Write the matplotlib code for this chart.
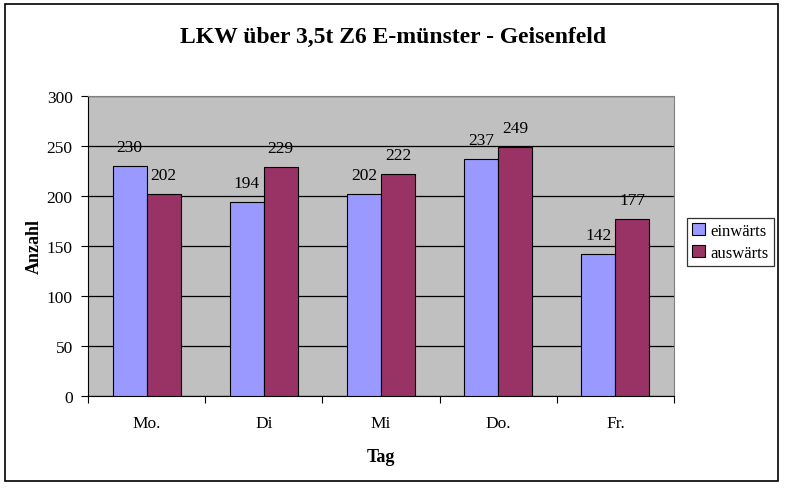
import matplotlib
matplotlib.use("Agg")
import matplotlib.pyplot as plt
import numpy as np
from matplotlib.patches import Rectangle

categories = ["Mo.", "Di", "Mi", "Do.", "Fr."]
einwaerts = [230, 194, 202, 237, 142]
auswaerts = [202, 229, 222, 249, 177]
series_names = ["einwärts", "auswärts"]
yticks = [0, 50, 100, 150, 200, 250, 300]

plt.rcParams['font.family'] = ['Liberation Serif', 'DejaVu Serif']

fig = plt.figure(figsize=(7.86, 4.89), dpi=100)
fig.patch.set_facecolor('white')
fig.patches.append(Rectangle((5/786, 1-482/489), 773/786, 477/489, transform=fig.transFigure,
                             fill=False, edgecolor='black', linewidth=1.2))

ax = fig.add_axes([88/786, 1-397/489, 586/786, 300/489])
ax.set_facecolor('#C0C0C0')
x = np.arange(len(categories))
w = 0.29
b1 = ax.bar(x - w/2, einwaerts, w, color='#9999FF', edgecolor='black', linewidth=0.8, label=series_names[0], zorder=3)
b2 = ax.bar(x + w/2, auswaerts, w, color='#993366', edgecolor='black', linewidth=0.8, label=series_names[1], zorder=3)
for bars, vals in ((b1, einwaerts), (b2, auswaerts)):
    for r, v in zip(bars, vals):
        ax.annotate(str(v), (r.get_x() + r.get_width()/2, v), xytext=(0, 8), textcoords='offset points',
                    ha='center', va='bottom', fontsize=12.5, zorder=4)

ax.set_xlim(-0.5, len(categories) - 0.5)
ax.set_ylim(0, 300)
ax.set_yticks(yticks)
ax.set_yticklabels([str(t) for t in yticks], fontsize=12.5)
ax.yaxis.grid(True, color='black', linewidth=0.9, zorder=1)
ax.set_axisbelow(True)
ax.set_xticks(np.arange(-0.5, len(categories)), minor=False)
ax.set_xticklabels([])
ax.set_xticks(x, minor=True)
ax.set_xticklabels(categories, minor=True, fontsize=12.5)
ax.tick_params(axis='x', which='minor', length=0, pad=14)
ax.tick_params(axis='x', which='major', length=5, direction='out', color='black')
ax.tick_params(axis='y', length=5, direction='out', pad=6)
for s in ['top', 'right']:
    ax.spines[s].set_color('#808080')
for s in ['left', 'bottom']:
    ax.spines[s].set_color('black')
ax.set_xlabel("Tag", fontsize=13, fontweight='bold', labelpad=12)
ax.set_ylabel("Anzahl", fontsize=13, fontweight='bold', labelpad=3)

fig.text(0.5, 1-37/489, "LKW über 3,5t Z6 E-münster - Geisenfeld", ha='center', va='center',
         fontsize=17, fontweight='bold')

leg = fig.legend(handles=[b1, b2], labels=series_names, loc='upper left',
                 bbox_to_anchor=(687/786, 1-219/489), frameon=True, fancybox=False,
                 edgecolor='black', fontsize=12, handlelength=0.75, handleheight=0.75,
                 handletextpad=0.35, borderpad=0.3, labelspacing=0.35, borderaxespad=0)
leg.get_frame().set_linewidth(0.9)

fig.savefig("out.png", dpi=100)
